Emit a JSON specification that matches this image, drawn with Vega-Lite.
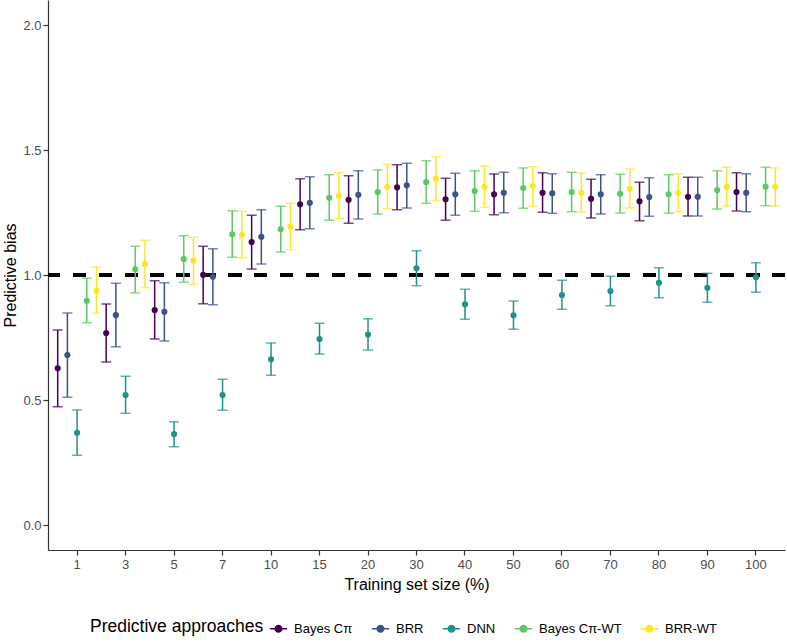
{
  "$schema": "https://vega.github.io/schema/vega-lite/v6.json",
  "width": 737,
  "height": 550,
  "autosize": {"type": "none"},
  "padding": {"left": 48, "top": 0, "right": 2, "bottom": 92},
  "background": "white",
  "config": {
    "view": {"stroke": null},
    "font": "Liberation Sans",
    "axis": {"grid": false}
  },
  "data": {
    "values": [
      {"size": "1", "method": "Bayes Cπ", "bias": 0.627, "lo": 0.473, "hi": 0.780},
      {"size": "1", "method": "BRR", "bias": 0.680, "lo": 0.511, "hi": 0.848},
      {"size": "1", "method": "DNN", "bias": 0.369, "lo": 0.279, "hi": 0.460},
      {"size": "1", "method": "Bayes Cπ-WT", "bias": 0.897, "lo": 0.809, "hi": 0.987},
      {"size": "1", "method": "BRR-WT", "bias": 0.937, "lo": 0.847, "hi": 1.032},
      {"size": "3", "method": "Bayes Cπ", "bias": 0.768, "lo": 0.652, "hi": 0.884},
      {"size": "3", "method": "BRR", "bias": 0.840, "lo": 0.713, "hi": 0.967},
      {"size": "3", "method": "DNN", "bias": 0.520, "lo": 0.447, "hi": 0.595},
      {"size": "3", "method": "Bayes Cπ-WT", "bias": 1.023, "lo": 0.929, "hi": 1.115},
      {"size": "3", "method": "BRR-WT", "bias": 1.043, "lo": 0.949, "hi": 1.139},
      {"size": "5", "method": "Bayes Cπ", "bias": 0.860, "lo": 0.744, "hi": 0.977},
      {"size": "5", "method": "BRR", "bias": 0.853, "lo": 0.736, "hi": 0.969},
      {"size": "5", "method": "DNN", "bias": 0.364, "lo": 0.313, "hi": 0.413},
      {"size": "5", "method": "Bayes Cπ-WT", "bias": 1.064, "lo": 0.971, "hi": 1.157},
      {"size": "5", "method": "BRR-WT", "bias": 1.057, "lo": 0.963, "hi": 1.151},
      {"size": "7", "method": "Bayes Cπ", "bias": 1.001, "lo": 0.885, "hi": 1.115},
      {"size": "7", "method": "BRR", "bias": 0.993, "lo": 0.881, "hi": 1.105},
      {"size": "7", "method": "DNN", "bias": 0.520, "lo": 0.459, "hi": 0.583},
      {"size": "7", "method": "Bayes Cπ-WT", "bias": 1.163, "lo": 1.071, "hi": 1.257},
      {"size": "7", "method": "BRR-WT", "bias": 1.161, "lo": 1.068, "hi": 1.255},
      {"size": "10", "method": "Bayes Cπ", "bias": 1.132, "lo": 1.024, "hi": 1.239},
      {"size": "10", "method": "BRR", "bias": 1.153, "lo": 1.044, "hi": 1.261},
      {"size": "10", "method": "DNN", "bias": 0.663, "lo": 0.599, "hi": 0.728},
      {"size": "10", "method": "Bayes Cπ-WT", "bias": 1.184, "lo": 1.092, "hi": 1.275},
      {"size": "10", "method": "BRR-WT", "bias": 1.193, "lo": 1.101, "hi": 1.287},
      {"size": "15", "method": "Bayes Cπ", "bias": 1.283, "lo": 1.181, "hi": 1.385},
      {"size": "15", "method": "BRR", "bias": 1.289, "lo": 1.185, "hi": 1.393},
      {"size": "15", "method": "DNN", "bias": 0.744, "lo": 0.684, "hi": 0.807},
      {"size": "15", "method": "Bayes Cπ-WT", "bias": 1.309, "lo": 1.219, "hi": 1.401},
      {"size": "15", "method": "BRR-WT", "bias": 1.317, "lo": 1.225, "hi": 1.409},
      {"size": "20", "method": "Bayes Cπ", "bias": 1.301, "lo": 1.207, "hi": 1.397},
      {"size": "20", "method": "BRR", "bias": 1.321, "lo": 1.224, "hi": 1.417},
      {"size": "20", "method": "DNN", "bias": 0.762, "lo": 0.700, "hi": 0.825},
      {"size": "20", "method": "Bayes Cπ-WT", "bias": 1.332, "lo": 1.244, "hi": 1.420},
      {"size": "20", "method": "BRR-WT", "bias": 1.353, "lo": 1.264, "hi": 1.443},
      {"size": "30", "method": "Bayes Cπ", "bias": 1.351, "lo": 1.261, "hi": 1.441},
      {"size": "30", "method": "BRR", "bias": 1.359, "lo": 1.268, "hi": 1.447},
      {"size": "30", "method": "DNN", "bias": 1.027, "lo": 0.957, "hi": 1.097},
      {"size": "30", "method": "Bayes Cπ-WT", "bias": 1.372, "lo": 1.287, "hi": 1.457},
      {"size": "30", "method": "BRR-WT", "bias": 1.385, "lo": 1.299, "hi": 1.473},
      {"size": "40", "method": "Bayes Cπ", "bias": 1.303, "lo": 1.219, "hi": 1.387},
      {"size": "40", "method": "BRR", "bias": 1.323, "lo": 1.239, "hi": 1.407},
      {"size": "40", "method": "DNN", "bias": 0.883, "lo": 0.823, "hi": 0.943},
      {"size": "40", "method": "Bayes Cπ-WT", "bias": 1.336, "lo": 1.255, "hi": 1.417},
      {"size": "40", "method": "BRR-WT", "bias": 1.353, "lo": 1.271, "hi": 1.436},
      {"size": "50", "method": "Bayes Cπ", "bias": 1.323, "lo": 1.241, "hi": 1.404},
      {"size": "50", "method": "BRR", "bias": 1.329, "lo": 1.249, "hi": 1.411},
      {"size": "50", "method": "DNN", "bias": 0.839, "lo": 0.783, "hi": 0.896},
      {"size": "50", "method": "Bayes Cπ-WT", "bias": 1.348, "lo": 1.267, "hi": 1.428},
      {"size": "50", "method": "BRR-WT", "bias": 1.356, "lo": 1.275, "hi": 1.433},
      {"size": "60", "method": "Bayes Cπ", "bias": 1.329, "lo": 1.251, "hi": 1.409},
      {"size": "60", "method": "BRR", "bias": 1.327, "lo": 1.247, "hi": 1.405},
      {"size": "60", "method": "DNN", "bias": 0.920, "lo": 0.863, "hi": 0.979},
      {"size": "60", "method": "Bayes Cπ-WT", "bias": 1.332, "lo": 1.253, "hi": 1.411},
      {"size": "60", "method": "BRR-WT", "bias": 1.329, "lo": 1.252, "hi": 1.408},
      {"size": "70", "method": "Bayes Cπ", "bias": 1.305, "lo": 1.228, "hi": 1.383},
      {"size": "70", "method": "BRR", "bias": 1.323, "lo": 1.244, "hi": 1.401},
      {"size": "70", "method": "DNN", "bias": 0.936, "lo": 0.877, "hi": 0.995},
      {"size": "70", "method": "Bayes Cπ-WT", "bias": 1.325, "lo": 1.248, "hi": 1.403},
      {"size": "70", "method": "BRR-WT", "bias": 1.345, "lo": 1.268, "hi": 1.424},
      {"size": "80", "method": "Bayes Cπ", "bias": 1.295, "lo": 1.217, "hi": 1.371},
      {"size": "80", "method": "BRR", "bias": 1.312, "lo": 1.235, "hi": 1.389},
      {"size": "80", "method": "DNN", "bias": 0.969, "lo": 0.909, "hi": 1.029},
      {"size": "80", "method": "Bayes Cπ-WT", "bias": 1.323, "lo": 1.247, "hi": 1.401},
      {"size": "80", "method": "BRR-WT", "bias": 1.329, "lo": 1.253, "hi": 1.405},
      {"size": "90", "method": "Bayes Cπ", "bias": 1.313, "lo": 1.236, "hi": 1.391},
      {"size": "90", "method": "BRR", "bias": 1.313, "lo": 1.236, "hi": 1.391},
      {"size": "90", "method": "DNN", "bias": 0.949, "lo": 0.891, "hi": 1.007},
      {"size": "90", "method": "Bayes Cπ-WT", "bias": 1.340, "lo": 1.264, "hi": 1.417},
      {"size": "90", "method": "BRR-WT", "bias": 1.353, "lo": 1.276, "hi": 1.431},
      {"size": "100", "method": "Bayes Cπ", "bias": 1.332, "lo": 1.256, "hi": 1.409},
      {"size": "100", "method": "BRR", "bias": 1.329, "lo": 1.253, "hi": 1.405},
      {"size": "100", "method": "DNN", "bias": 0.991, "lo": 0.931, "hi": 1.049},
      {"size": "100", "method": "Bayes Cπ-WT", "bias": 1.353, "lo": 1.277, "hi": 1.431},
      {"size": "100", "method": "BRR-WT", "bias": 1.353, "lo": 1.276, "hi": 1.428}
    ]
  },
  "layer": [
    {
      "mark": {"type": "rule", "strokeDash": [12.5, 13.4], "strokeWidth": 4, "color": "black"},
      "encoding": {
        "y": {"datum": 1, "type": "quantitative", "scale": {"domain": [-0.1, 2.1], "nice": false, "zero": false},
          "axis": {"values": [0, 0.5, 1, 1.5, 2], "format": ".1f", "title": "Predictive bias", "titleFontSize": 16, "titleFontWeight": "normal", "titleColor": "#000000", "labelFontSize": 13, "labelColor": "#4D4D4D", "tickSize": 5, "tickColor": "#333333", "domainColor": "#333333", "domainWidth": 1.2, "tickWidth": 1.2, "labelPadding": 2, "titlePadding": 4}}
      }
    },
    {
      "mark": {"type": "rule", "strokeWidth": 1.5},
      "encoding": {
        "x": {"field": "size", "type": "nominal", "sort": ["1", "3", "5", "7", "10", "15", "20", "30", "40", "50", "60", "70", "80", "90", "100"], "scale": {"paddingInner": 0, "paddingOuter": 0.1},
          "axis": {"title": "Training set size (%)", "labelAngle": 0, "labelFontSize": 13, "labelColor": "#4D4D4D", "titleFontSize": 16, "titleFontWeight": "normal", "titleColor": "#000000", "tickSize": 5, "tickColor": "#333333", "tickWidth": 1.2, "domainColor": "#333333", "domainWidth": 1.2, "labelPadding": 3, "titlePadding": 5}},
        "xOffset": {"field": "method", "type": "nominal", "sort": ["Bayes Cπ", "BRR", "DNN", "Bayes Cπ-WT", "BRR-WT"], "scale": {"paddingInner": 0, "paddingOuter": 0}},
        "y": {"field": "lo", "type": "quantitative", "scale": {"domain": [-0.1, 2.1], "nice": false, "zero": false}, "title": "Predictive bias"},
        "y2": {"field": "hi"},
        "color": {"field": "method", "type": "nominal", "sort": ["Bayes Cπ", "BRR", "DNN", "Bayes Cπ-WT", "BRR-WT"],
          "scale": {"domain": ["Bayes Cπ", "BRR", "DNN", "Bayes Cπ-WT", "BRR-WT"], "range": ["#440154", "#3B528B", "#21908C", "#5DC863", "#FDE725"]},
          "legend": {"title": "Predictive approaches", "orient": "none", "legendX": 42, "legendY": 619, "direction": "horizontal", "columns": 5, "titleOrient": "left", "titleFontSize": 17.5, "titleFontWeight": "normal", "titleColor": "#000000", "titleBaseline": "middle", "labelFontSize": 13, "labelColor": "#000000", "labelOffset": 6, "columnPadding": 15, "symbolType": "M-1,0H1M-0.38,0A0.38,0.38 0 1,1 0.38,0A0.38,0.38 0 1,1 -0.38,0Z", "symbolSize": 300, "symbolStrokeWidth": 1.5,
            "encode": {"symbols": {"update": {"stroke": {"scale": "color", "field": "value"}, "fill": {"scale": "color", "field": "value"}, "opacity": {"value": 1}}}}}}
      }
    },
    {
      "mark": {"type": "tick", "orient": "horizontal", "size": 10, "thickness": 1.5},
      "encoding": {
        "x": {"field": "size", "type": "nominal", "sort": ["1", "3", "5", "7", "10", "15", "20", "30", "40", "50", "60", "70", "80", "90", "100"]},
        "xOffset": {"field": "method", "type": "nominal", "sort": ["Bayes Cπ", "BRR", "DNN", "Bayes Cπ-WT", "BRR-WT"]},
        "y": {"field": "lo", "type": "quantitative", "title": "Predictive bias"},
        "color": {"field": "method", "type": "nominal", "sort": ["Bayes Cπ", "BRR", "DNN", "Bayes Cπ-WT", "BRR-WT"]}
      }
    },
    {
      "mark": {"type": "tick", "orient": "horizontal", "size": 10, "thickness": 1.5},
      "encoding": {
        "x": {"field": "size", "type": "nominal", "sort": ["1", "3", "5", "7", "10", "15", "20", "30", "40", "50", "60", "70", "80", "90", "100"]},
        "xOffset": {"field": "method", "type": "nominal", "sort": ["Bayes Cπ", "BRR", "DNN", "Bayes Cπ-WT", "BRR-WT"]},
        "y": {"field": "hi", "type": "quantitative", "title": "Predictive bias"},
        "color": {"field": "method", "type": "nominal", "sort": ["Bayes Cπ", "BRR", "DNN", "Bayes Cπ-WT", "BRR-WT"]}
      }
    },
    {
      "mark": {"type": "point", "filled": true, "size": 38, "opacity": 1},
      "encoding": {
        "x": {"field": "size", "type": "nominal", "sort": ["1", "3", "5", "7", "10", "15", "20", "30", "40", "50", "60", "70", "80", "90", "100"]},
        "xOffset": {"field": "method", "type": "nominal", "sort": ["Bayes Cπ", "BRR", "DNN", "Bayes Cπ-WT", "BRR-WT"]},
        "y": {"field": "bias", "type": "quantitative", "title": "Predictive bias"},
        "color": {"field": "method", "type": "nominal", "sort": ["Bayes Cπ", "BRR", "DNN", "Bayes Cπ-WT", "BRR-WT"]}
      }
    }
  ]
}
